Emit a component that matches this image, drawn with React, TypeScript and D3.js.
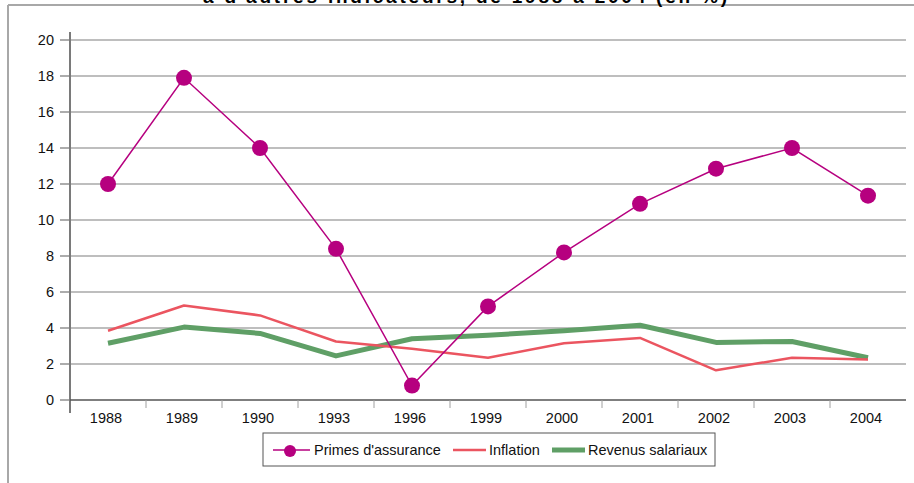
import { scaleBand, scaleLinear, line } from "d3"

const years = ["1988", "1989", "1990", "1993", "1996", "1999", "2000", "2001", "2002", "2003", "2004"]
const primes = [12, 17.9, 14, 8.4, 0.8, 5.2, 8.2, 10.9, 12.85, 14, 11.35]
const inflation = [3.85, 5.25, 4.7, 3.25, 2.85, 2.35, 3.15, 3.45, 1.65, 2.35, 2.25]
const revenus = [3.15, 4.05, 3.7, 2.45, 3.4, 3.6, 3.85, 4.15, 3.2, 3.25, 2.35]
const yTicks = [0, 2, 4, 6, 8, 10, 12, 14, 16, 18, 20]

const title = "à d'autres indicateurs, de 1988 à 2004 (en %)"
const legendLabels = ["Primes d'assurance", "Inflation", "Revenus salariaux"]

const PRIMES = "#b6007f"
const INFL = "#eb5560"
const REV = "#5f9f66"
const FONT = "'Liberation Sans', Arial, sans-serif"
const FS = 14.5

export default function App() {
  const width = 914
  const height = 483
  const left = 70
  const right = 906
  const top = 40
  const bottom = 400

  const x = scaleBand().domain(years).range([left, right]).padding(0)
  const y = scaleLinear().domain([0, 20]).range([bottom, top])
  const cx = (i: number) => (x(years[i]) ?? 0) + x.bandwidth() / 2

  const path = line<number>().x((d, i) => cx(i)).y(d => y(d))

  return (
    <svg width={width} height={height} style={{ position: "absolute", left: 0, top: 0, background: "#fff" }}>
      {/* frame */}
      <line x1={8} x2={914} y1={5} y2={5} stroke="#a8a8a8" strokeWidth={2} />
      <line x1={8} x2={8} y1={5} y2={483} stroke="#a8a8a8" strokeWidth={2} />

      <text x={203} y={3} textLength={524} lengthAdjust="spacing" fontFamily={FONT} fontWeight="bold" fontSize={19} fill="#000">
        {title}
      </text>

      {/* grid + y axis */}
      {yTicks.map(t => (
        <g key={t}>
          {t > 0 && <line x1={left} x2={right} y1={y(t)} y2={y(t)} stroke="#a9a9a9" strokeWidth={1.5} />}
          <line x1={60} x2={left} y1={y(t)} y2={y(t)} stroke="#909090" strokeWidth={1.5} />
          <text x={54} y={y(t)} dy="0.35em" textAnchor="end" fontFamily={FONT} fontSize={FS} fill="#111">
            {t}
          </text>
        </g>
      ))}
      <line x1={left} x2={left} y1={top - 8} y2={413} stroke="#7a7a7a" strokeWidth={2} />
      <line x1={left} x2={right} y1={bottom} y2={bottom} stroke="#555" strokeWidth={1.5} />

      {/* x axis */}
      {years.map((yr, i) => (
        <g key={yr}>
          {i > 0 && <line x1={x(yr)} x2={x(yr)} y1={bottom} y2={bottom + 8} stroke="#a0a0a0" strokeWidth={1} />}
          <text x={cx(i) - 2} y={418} dy="0.35em" textAnchor="middle" fontFamily={FONT} fontSize={FS} fill="#111">
            {yr}
          </text>
        </g>
      ))}

      {/* series */}
      <path d={path(revenus) ?? ""} fill="none" stroke={REV} strokeWidth={5} strokeLinejoin="round" />
      <path d={path(inflation) ?? ""} fill="none" stroke={INFL} strokeWidth={2.5} strokeLinejoin="round" />
      <path d={path(primes) ?? ""} fill="none" stroke={PRIMES} strokeWidth={1.5} />
      {primes.map((v, i) => (
        <circle key={i} cx={cx(i)} cy={y(v)} r={8} fill={PRIMES} />
      ))}

      {/* legend */}
      <rect x={263} y={433} width={452} height={33} fill="#fff" stroke="#555" strokeWidth={1} />
      <line x1={273} x2={310} y1={450} y2={450} stroke={PRIMES} strokeWidth={1.5} />
      <circle cx={290} cy={451} r={6} fill={PRIMES} />
      <text x={314} y={450} dy="0.35em" fontFamily={FONT} fontSize={FS} fill="#111">{legendLabels[0]}</text>
      <line x1={453} x2={486} y1={450} y2={450} stroke={INFL} strokeWidth={2.5} />
      <text x={489} y={450} dy="0.35em" fontFamily={FONT} fontSize={FS} fill="#111">{legendLabels[1]}</text>
      <line x1={552} x2={585} y1={450} y2={450} stroke={REV} strokeWidth={5} />
      <text x={588} y={450} dy="0.35em" fontFamily={FONT} fontSize={FS} fill="#111">{legendLabels[2]}</text>
    </svg>
  )
}
